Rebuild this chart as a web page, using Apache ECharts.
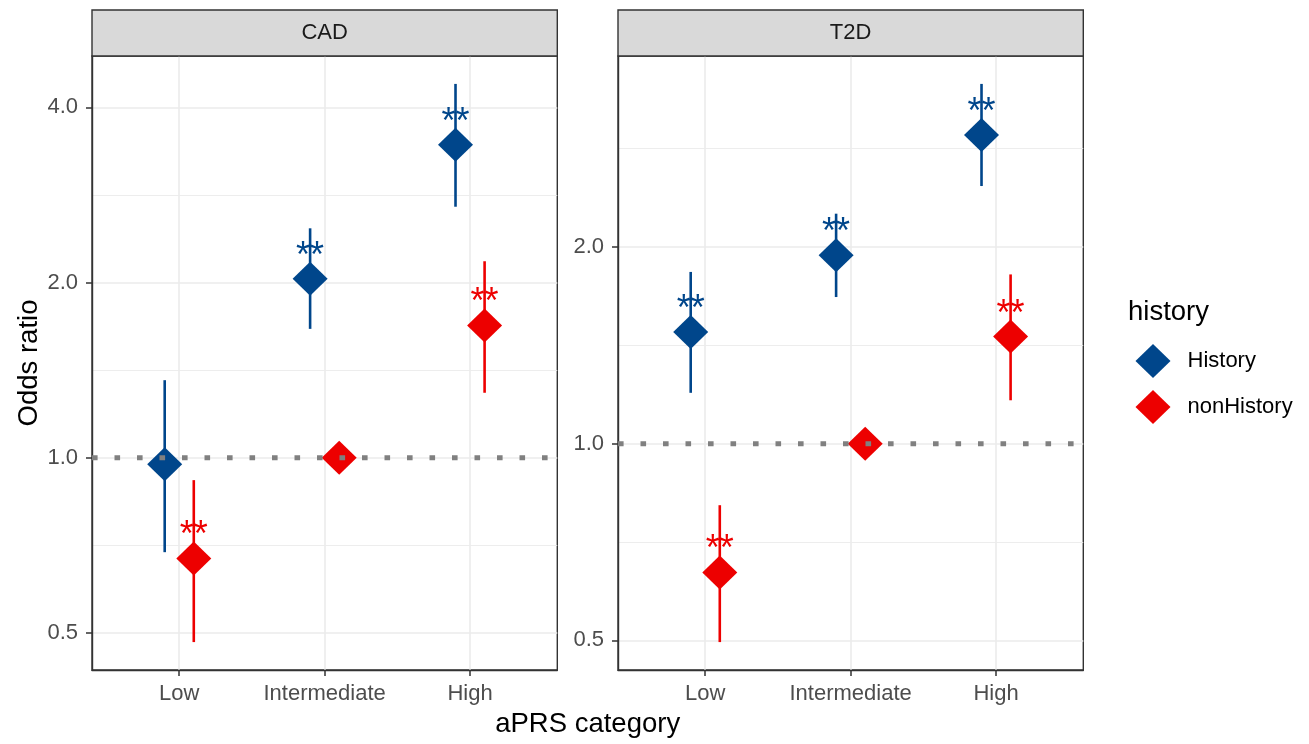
<!DOCTYPE html>
<html>
<head>
<meta charset="utf-8">
<title>Odds ratio by aPRS category</title>
<script src="https://cdn.jsdelivr.net/npm/echarts@6/dist/echarts.min.js"></script>
<style>
  html, body { margin: 0; padding: 0; background: #fff; }
  #chart { width: 1309px; height: 744px; }
</style>
</head>
<body>
<div id="chart"></div>
<script>
// ---- data ---------------------------------------------------------------
const panels = ['CAD', 'T2D'];
const categories = ['Low', 'Intermediate', 'High'];
const groups = ['History', 'nonHistory'];
const yTickValues = [0.5, 1, 2, 4];
const referenceOR = 1;

// CAD: odds ratio, 95% CI bounds, significance marks
const cadHistoryOR = [0.974, 2.03, 3.45];
const cadHistoryLo = [0.688, 1.665, 2.70];
const cadHistoryHi = [1.359, 2.479, 4.39];
const cadHistorySig = ['', '**', '**'];
const cadNonHistoryOR = [0.671, 1.0, 1.687];
const cadNonHistoryLo = [0.482, null, 1.293];
const cadNonHistoryHi = [0.915, null, 2.176];
const cadNonHistorySig = ['**', '', '**'];

// T2D
const t2dHistoryOR = [1.482, 1.942, 2.967];
const t2dHistoryLo = [1.196, 1.676, 2.478];
const t2dHistoryHi = [1.831, 2.248, 3.551];
const t2dHistorySig = ['**', '**', '**'];
const t2dNonHistoryOR = [0.635, 1.0, 1.458];
const t2dNonHistoryLo = [0.497, null, 1.165];
const t2dNonHistoryHi = [0.805, null, 1.815];
const t2dNonHistorySig = ['**', '', '**'];

// ---- styling ------------------------------------------------------------
const FONT = '"Liberation Sans", Arial, Helvetica, sans-serif';
const colors = { History: '#00468B', nonHistory: '#ED0000' };
const dodge = { History: -0.1, nonHistory: 0.1 };
const panelLeft = [92, 618];
const panelWidth = 465.3;
const panelTop = 56, panelBottom = 670;
const W = 1309, H = 744;
const borderStyle = { color: '#333333', width: 1.4 };

const panelData = {
  CAD: {
    History: { or: cadHistoryOR, lo: cadHistoryLo, hi: cadHistoryHi, sig: cadHistorySig },
    nonHistory: { or: cadNonHistoryOR, lo: cadNonHistoryLo, hi: cadNonHistoryHi, sig: cadNonHistorySig }
  },
  T2D: {
    History: { or: t2dHistoryOR, lo: t2dHistoryLo, hi: t2dHistoryHi, sig: t2dHistorySig },
    nonHistory: { or: t2dNonHistoryOR, lo: t2dNonHistoryLo, hi: t2dNonHistoryHi, sig: t2dNonHistorySig }
  }
};

const log2 = v => Math.log(v) / Math.LN2;

// y range on the log2 scale: data range expanded by 5% on each side
function logRange(d) {
  const vals = [];
  groups.forEach(g => {
    d[g].or.forEach(v => v != null && vals.push(log2(v)));
    d[g].lo.forEach(v => v != null && vals.push(log2(v)));
    d[g].hi.forEach(v => v != null && vals.push(log2(v)));
  });
  const mn = Math.min(...vals), mx = Math.max(...vals);
  const pad = (mx - mn) * 0.05;
  return [mn - pad, mx + pad];
}

function minorValues(yMin, yMax) {
  const out = [];
  for (let k = Math.ceil(yMin * 2) / 2; k <= yMax; k += 0.5) {
    if (Math.abs(k - Math.round(k)) > 1e-9) out.push(k);
  }
  return out;
}

const grids = [], xAxes = [], yAxes = [], series = [], graphics = [];
const ranges = panels.map(name => logRange(panelData[name]));

panels.forEach((name, i) => {
  const [yMin, yMax] = ranges[i];
  const majors = yTickValues.map(log2).filter(v => v >= yMin && v <= yMax);

  grids.push({
    left: panelLeft[i], width: panelWidth, top: panelTop, height: panelBottom - panelTop,
    show: true, borderColor: '#333333', borderWidth: 1.4, backgroundColor: '#ffffff'
  });

  xAxes.push({
    type: 'value', gridIndex: i, min: 0.4, max: 3.6, position: 'bottom',
    axisLine: { show: true, onZero: false, lineStyle: borderStyle },
    axisTick: { show: true, length: 6, customValues: [1, 2, 3], lineStyle: { color: '#333333', width: 1.5 } },
    axisLabel: {
      customValues: [1, 2, 3], formatter: v => categories[Math.round(v) - 1],
      color: '#4D4D4D', fontSize: 22, fontFamily: FONT, margin: 13
    },
    splitLine: { show: true, lineStyle: { color: '#EBEBEB', width: 1.6 } }
  });

  // main y axis: major ticks, labels and major grid lines
  yAxes.push({
    type: 'value', gridIndex: i, min: yMin, max: yMax, position: 'left',
    name: i === 0 ? 'Odds ratio' : '',
    nameLocation: 'middle', nameGap: 46, nameRotate: 90,
    nameTextStyle: { color: '#000', fontSize: 27.5, fontFamily: FONT },
    axisLine: { show: true, onZero: false, lineStyle: borderStyle },
    axisTick: { show: true, length: 6, customValues: majors, lineStyle: { color: '#333333', width: 1.5 } },
    axisLabel: {
      customValues: majors, formatter: v => Math.pow(2, v).toFixed(1),
      color: '#4D4D4D', fontSize: 22, fontFamily: FONT, margin: 14
    },
    splitLine: { show: true, lineStyle: { color: '#EBEBEB', width: 1.6 } }
  });
});

// second y axis per panel for the thinner minor grid lines
panels.forEach((name, i) => {
  const [yMin, yMax] = ranges[i];
  const minors = minorValues(yMin, yMax);
  yAxes.push({
    type: 'value', gridIndex: i, min: yMin, max: yMax, position: 'left',
    axisLine: { show: false, onZero: false },
    axisTick: { show: false, customValues: minors },
    axisLabel: { show: false, customValues: minors },
    splitLine: { show: true, lineStyle: { color: '#EBEBEB', width: 0.9 } }
  });
});

panels.forEach((name, i) => {
  const d = panelData[name];
  groups.forEach(g => {
    const s = d[g];
    // confidence interval segments
    const bars = [];
    s.or.forEach((v, c) => {
      if (s.lo[c] != null && s.hi[c] != null) {
        bars.push([c + 1 + dodge[g], log2(s.lo[c]), log2(s.hi[c])]);
      }
    });
    series.push({
      type: 'custom', xAxisIndex: i, yAxisIndex: i, z: 2, silent: true,
      encode: { x: 0, y: [1, 2] },
      data: bars,
      renderItem: (params, api) => {
        const x = api.value(0);
        const p1 = api.coord([x, api.value(1)]);
        const p2 = api.coord([x, api.value(2)]);
        return {
          type: 'line',
          shape: { x1: p1[0], y1: p1[1], x2: p2[0], y2: p2[1] },
          style: { stroke: colors[g], lineWidth: 2.6 }
        };
      }
    });
    // point estimates with significance marks
    series.push({
      type: 'scatter', name: g, xAxisIndex: i, yAxisIndex: i, z: 3, silent: true,
      symbol: 'diamond', symbolSize: [35, 34],
      itemStyle: { color: colors[g], opacity: 1 },
      data: s.or.map((v, c) => [c + 1 + dodge[g], log2(v), s.sig[c]]),
      label: {
        show: true, position: 'inside', offset: [0, -22],
        formatter: p => p.data[2],
        color: colors[g], fontSize: 36, fontFamily: FONT
      }
    });
  });
  // dotted reference line at OR = 1
  series.push({
    type: 'custom', xAxisIndex: i, yAxisIndex: i, z: 10, silent: true,
    encode: { y: 0 },
    data: [[log2(referenceOR)]],
    renderItem: (params, api) => {
      const y = api.value(0);
      const a = api.coord([0.4, y]);
      const b = api.coord([3.6, y]);
      return {
        type: 'line',
        shape: { x1: a[0], y1: a[1], x2: b[0], y2: b[1] },
        style: { stroke: '#808080', lineWidth: 5, lineDash: [5.6, 16.9], lineCap: 'butt' }
      };
    }
  });

  // facet strip
  graphics.push({
    type: 'rect', z: 100,
    shape: { x: panelLeft[i], y: 10, width: panelWidth, height: panelTop - 10 },
    style: { fill: '#D9D9D9', stroke: '#333333', lineWidth: 1.4 }
  });
  graphics.push({
    type: 'text', z: 101,
    x: panelLeft[i] + panelWidth / 2, y: 33,
    style: { text: name, fill: '#1A1A1A', fontSize: 22, fontFamily: FONT, align: 'center', verticalAlign: 'middle' }
  });
});

// shared x axis title
graphics.push({
  type: 'text', z: 101, x: (panelLeft[0] + panelLeft[1] + panelWidth) / 2, y: 724,
  style: { text: 'aPRS category', fill: '#000', fontSize: 27.5, fontFamily: FONT, align: 'center', verticalAlign: 'middle' }
});
// legend title
graphics.push({
  type: 'text', z: 101, x: 1128, y: 312,
  style: { text: 'history', fill: '#000', fontSize: 27.5, fontFamily: FONT, align: 'left', verticalAlign: 'middle' }
});

const chart = echarts.init(document.getElementById('chart'), null, { renderer: 'canvas', width: W, height: H });
chart.setOption({
  backgroundColor: '#ffffff',
  animation: false,
  grid: grids,
  xAxis: xAxes,
  yAxis: yAxes,
  legend: {
    data: groups, orient: 'vertical', left: 1135.5, top: 344, padding: 0,
    itemWidth: 35, itemHeight: 34, itemGap: 12, icon: 'diamond',
    selectedMode: false,
    textStyle: { color: '#000', fontSize: 22, fontFamily: FONT, padding: [0, 0, 0, 12] }
  },
  graphic: graphics,
  series: series
});
</script>
</body>
</html>
